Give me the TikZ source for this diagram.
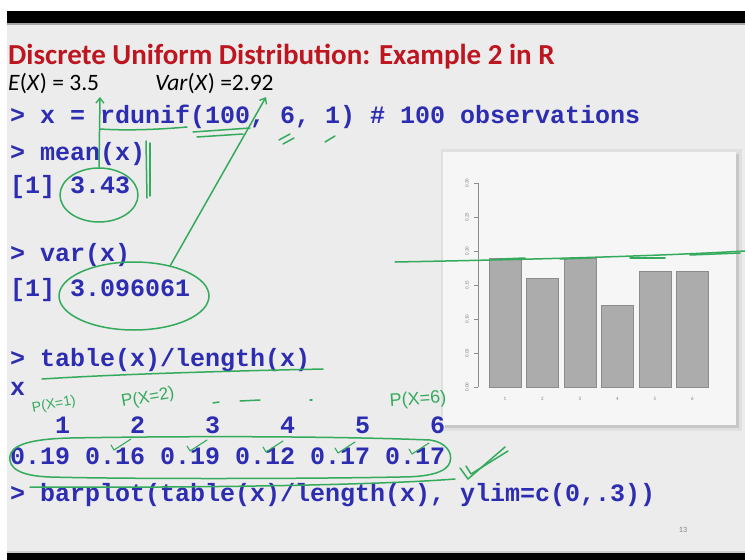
\documentclass[tikz,border=0pt]{standalone}
\usepackage{fontspec}
\setmainfont{Carlito}
\setmonofont{Liberation Mono}
\newfontfamily\handfont{Liberation Sans}
\usetikzlibrary{arrows.meta,shapes.geometric}
\definecolor{slidebg}{RGB}{236,236,236}
\definecolor{panelbg}{RGB}{246,246,246}
\definecolor{titlered}{RGB}{190,22,32}
\definecolor{codeblue}{RGB}{45,45,178}
\definecolor{pen}{RGB}{52,170,92}
\definecolor{bargray}{RGB}{172,172,172}
\definecolor{barline}{RGB}{140,140,140}
\begin{document}
\begin{tikzpicture}[x=1pt,y=-1pt,
  code/.style={anchor=base west,inner sep=0pt,text=codeblue,font=\fontsize{25}{30}\selectfont\ttfamily\bfseries},
  titletext/.style={anchor=base west,inner sep=0pt,text=titlered,font=\fontsize{29}{34}\selectfont\bfseries},
  evtext/.style={anchor=base west,inner sep=0pt,text=black,font=\fontsize{23.5}{27}\selectfont},
  ink/.style={draw=pen,line width=1.5pt,line cap=round,line join=round},
  inkarrow/.style={ink,-{Straight Barb[length=5pt,width=8pt,line width=1.4pt]}},
  penloop/.style={ellipse,ink,inner sep=0pt},
  handtext/.style={text=pen,inner sep=0pt,font=\handfont},
  ticklabel/.style={inner sep=0pt,text=gray,font=\fontsize{5}{5}\selectfont,rotate=90},
  barlabel/.style={inner sep=0pt,text=gray,font=\fontsize{5}{5}\selectfont},
  bar/.style={fill=bargray,draw=barline,line width=0.5pt}]
% background and frame
\useasboundingbox (0,0) rectangle (745,560);
\fill[white] (0,0) rectangle (745,560);
\fill[slidebg] (7,23) rectangle (745,555);
\fill[black] (7,11) rectangle (745,23);
\fill[gray!70] (7,23) rectangle (745,25);
\fill[gray!40] (7,551) rectangle (745,553);
\fill[black] (7,553) rectangle (745,560);
% barplot panel
\fill[black!12] (441,149) rectangle (742,431);
\fill[black!22] (445,154) rectangle (739,428);
\fill[panelbg] (443,152) rectangle (736,425);
\draw[barline,line width=0.6pt] (478,183) -- (478,387);
\foreach \i/\t in {0/0.00,1/0.05,2/0.10,3/0.15,4/0.20,5/0.25,6/0.30}{
  \draw[barline,line width=0.6pt] (478,{387-34*\i}) -- (474,{387-34*\i});
  \node[ticklabel] at (467,{387-34*\i}) {\t};
}
\foreach \v [count=\i] in {0.19,0.16,0.19,0.12,0.17,0.17}{
  \path[bar] ({489+37.5*(\i-1)},387) rectangle ++(32,{-680*\v});
  \node[barlabel] at ({505+37.5*(\i-1)},399) {\i};
}
% title and formulas
\node[titletext] (title) at (8,64) {Discrete Uniform Distribution: Example 2 in R};
\node[evtext] (ex) at (8,90) {\textit{E}(\textit{X}) = 3.5};
\node[evtext] (varx) at (155,90) {\textit{Var}(\textit{X}) =2.92};
% code
\node[code] (c1) at (10,123) {> x = rdunif(100, 6, 1) \# 100 observations};
\node[code] (c2) at (10,160) {> mean(x)};
\node[code] (c3) at (10,193) {[1] 3.43};
\node[code] (c4) at (10,261) {> var(x)};
\node[code] (c5) at (10,296) {[1] 3.096061};
\node[code] (c6) at (10,366) {> table(x)/length(x)};
\node[code] (c7) at (10,395) {x};
\node[code] (c8) at (10,433) {\ \ \ 1\ \ \ \ 2\ \ \ \ 3\ \ \ \ 4\ \ \ \ 5\ \ \ \ 6};
\node[code] (c9) at (10,464) {0.19 0.16 0.19 0.12 0.17 0.17};
\node[code] (c10) at (10,501) {> barplot(table(x)/length(x), ylim=c(0,.3))};
\node[inner sep=0pt,text=gray,font=\fontsize{8}{8}\selectfont] (pg) at (683,530) {13};
% pen annotations
\node[penloop,minimum width=78pt,minimum height=54pt] (e1) at (99,195) {};
\node[penloop,minimum width=150pt,minimum height=68pt] (e2) at (134,296) {};
\coordinate (t1) at (100,97);
\coordinate (t2) at (266,97);
\draw[inkarrow] (e1.north) -- (t1);
\draw[inkarrow] (e2.40) -- (t2);
\draw[ink] (146,141) -- (147,198);
\draw[ink] (150,143) -- (150,196);
\draw[ink] (100,129) .. controls (130,131) and (165,129) .. (187,127);
\draw[ink] (193,132) -- (250,128);
\draw[ink] (197,137) -- (243,134);
\draw[ink] (279,140) -- (290,134);
\draw[ink] (283,144) -- (294,138);
\draw[ink] (325,142) -- (335,136);
\draw[ink] (42,379) .. controls (120,374) and (230,371) .. (323,369);
\draw[ink] (395,262) .. controls (500,260) and (640,257) .. (745,251);
\draw[ink] (500,259) -- (525,258);
\draw[ink] (560,259) -- (590,258);
\draw[ink] (630,258) -- (665,258);
\draw[ink] (690,255) -- (740,253);
% probability labels
\node[handtext,font=\handfont\fontsize{14}{14}\selectfont,rotate=10] (p1) at (54,405) {P(X=1)};
\node[handtext,font=\handfont\fontsize{17}{17}\selectfont,rotate=10] (p2) at (148,398) {P(X=2)};
\node[handtext,font=\handfont\fontsize{18}{18}\selectfont,rotate=4] (p6) at (418,400) {P(X=6)};
\draw[ink] (213,403) -- (219,402);
\draw[ink] (240,401) -- (260,400);
\draw[ink] (310,400) -- (312,400);
% loop round the proportions
\draw[ink] (430,440) .. controls (445,442) and (453,452) .. (450,462) .. controls (447,472) and (430,477) .. (400,477) .. controls (300,479) and (120,479) .. (50,477) .. controls (20,476) and (8,468) .. (10,456) .. controls (12,445) and (30,439) .. (70,438) .. controls (180,436) and (330,436) .. (430,440);
\draw[ink] (30,487) .. controls (200,488) and (380,485) .. (455,479);
\foreach \cx/\cy in {122/444,198/445,274/446,346/447,420/448}{
  \draw[ink,line width=1.1pt] ({\cx-11},{\cy+1}) -- ({\cx-8},{\cy+6}) -- ({\cx+9},{\cy-5});
}
\draw[ink] (460,468) -- (468,479) -- (505,447);
\draw[ink] (466,466) -- (471,474) -- (508,451);
\end{tikzpicture}
\end{document}
